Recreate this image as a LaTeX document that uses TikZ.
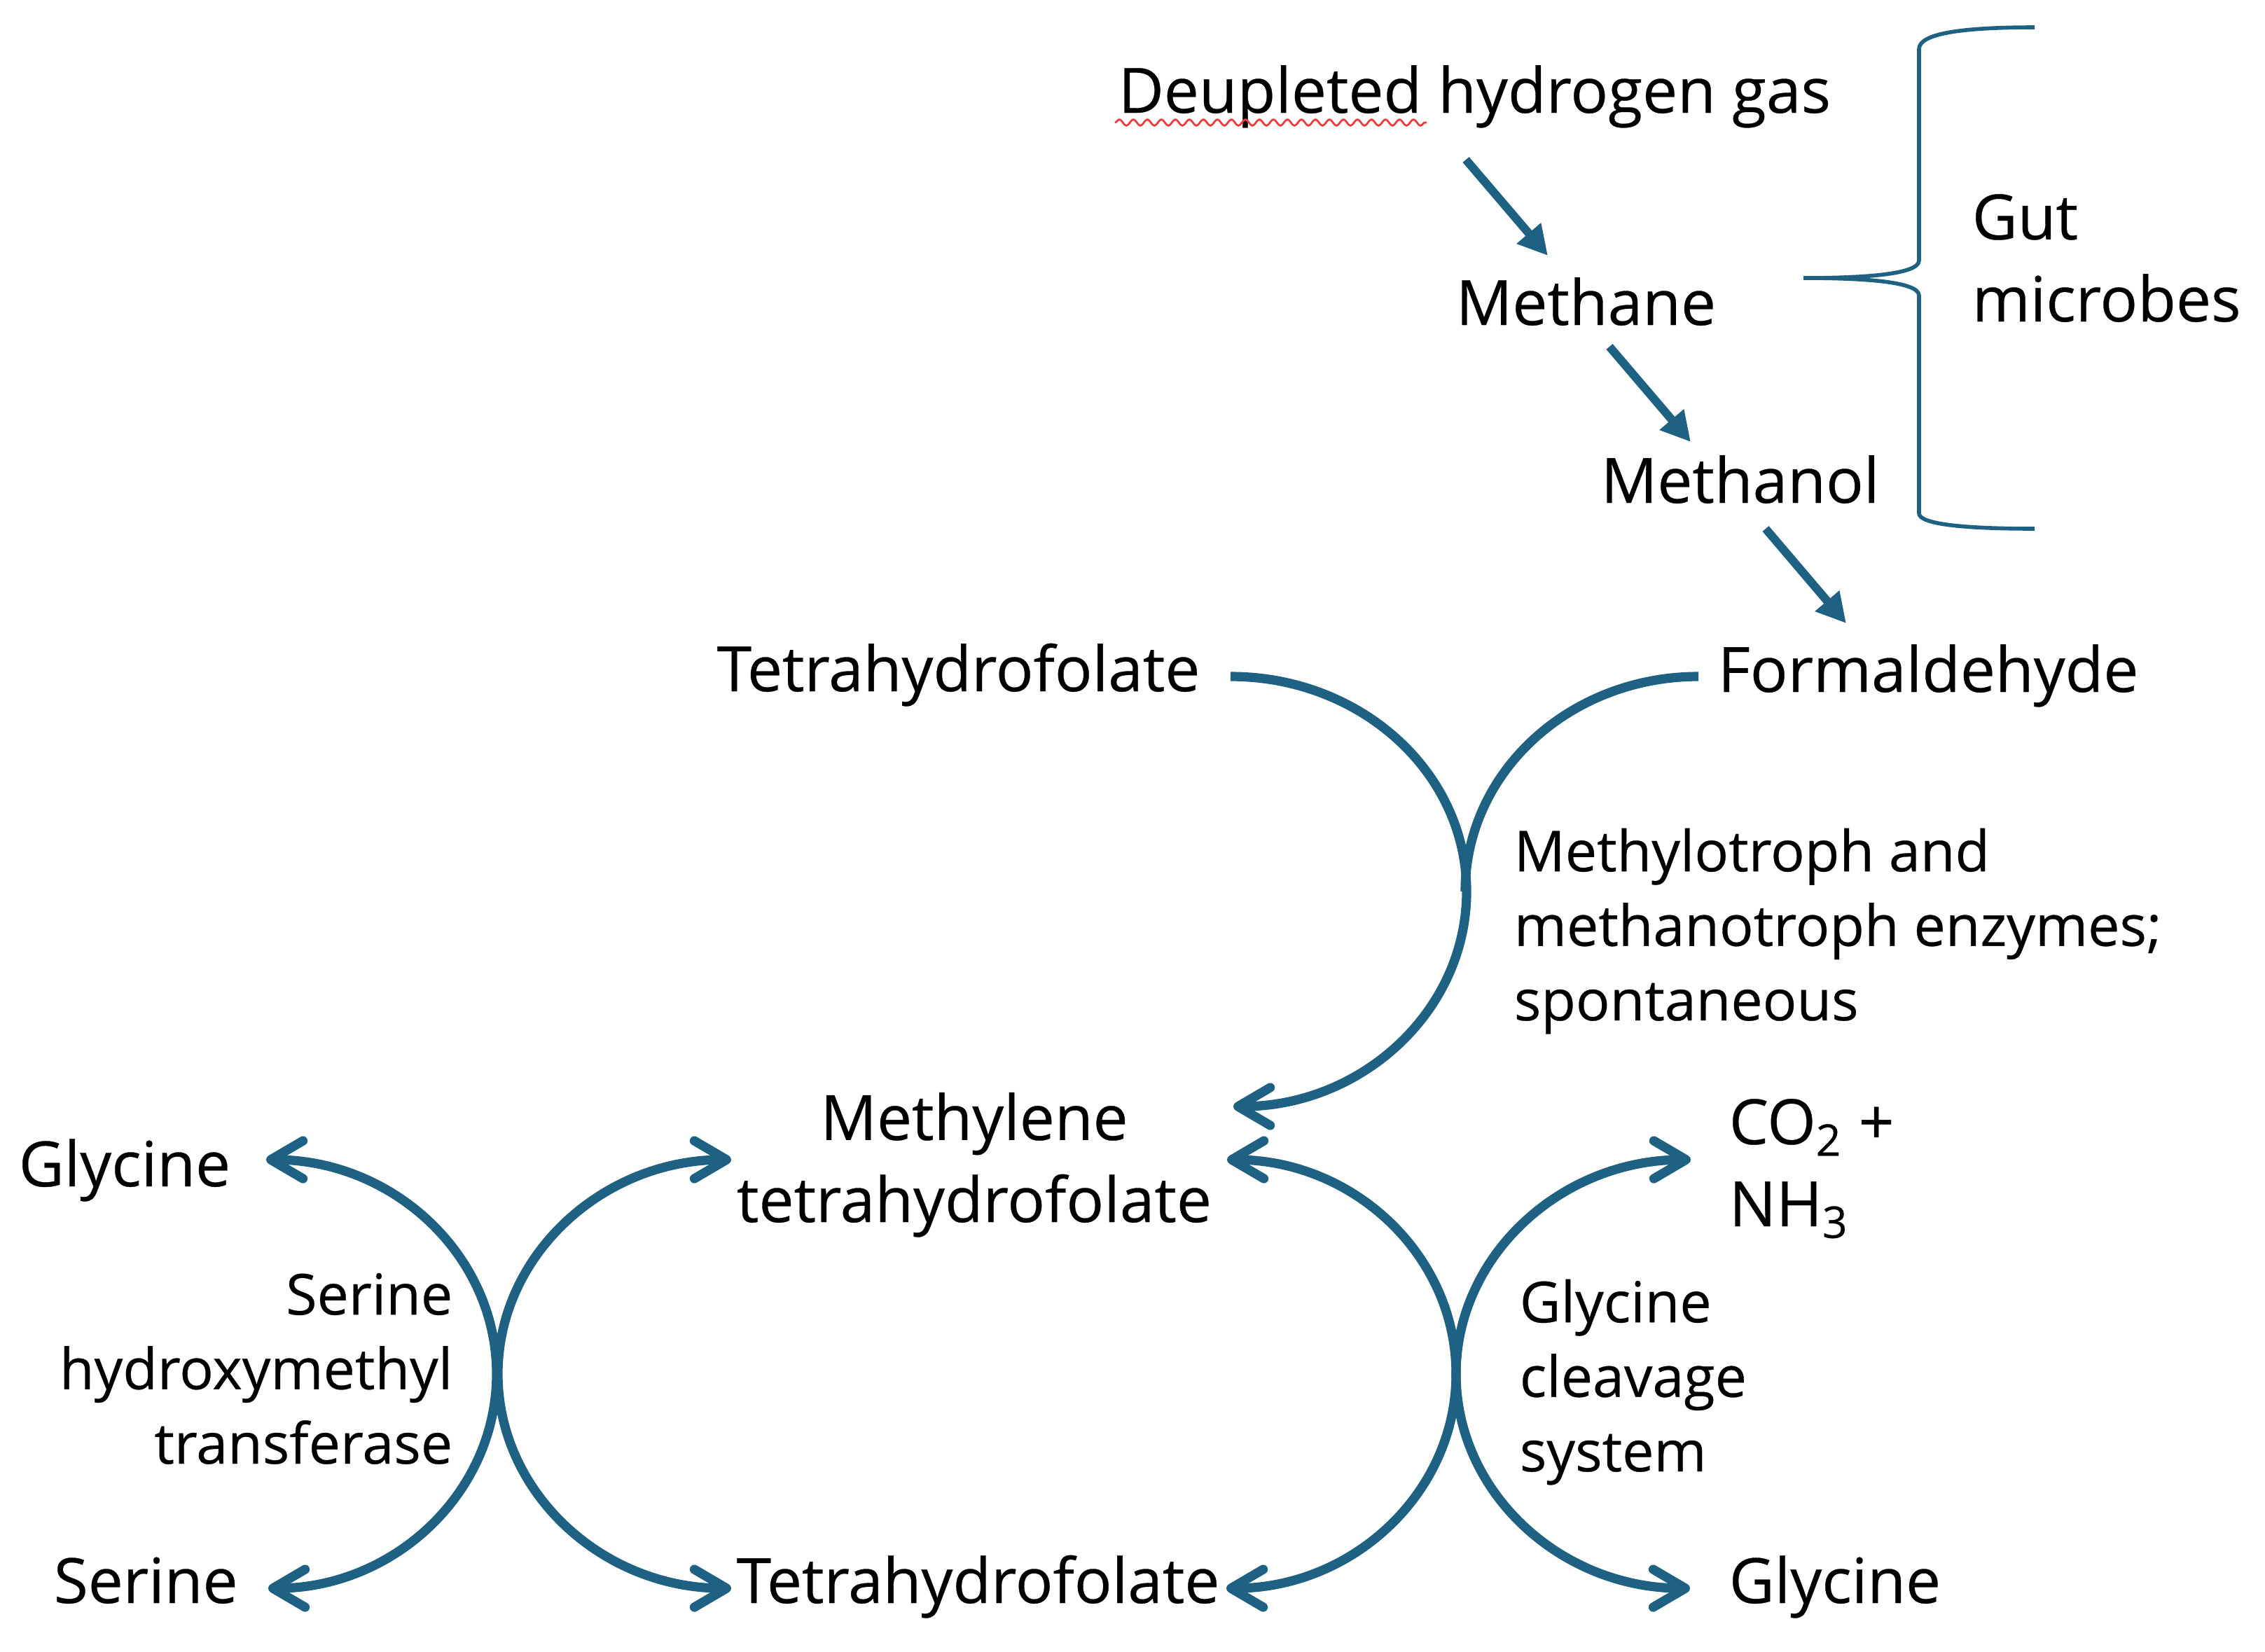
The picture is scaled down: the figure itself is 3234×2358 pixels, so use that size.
\documentclass[tikz,border=0pt]{standalone}
\usepackage{fontspec}
\setmainfont{Open Sans}[FakeBold=0.35]
\usetikzlibrary{arrows.meta,decorations.pathmorphing}
\definecolor{arr}{RGB}{31,97,131}
\definecolor{spell}{RGB}{235,60,60}
\tikzset{
  lbl/.style={inner sep=0pt, font=\fontsize{22.3}{29.3}\selectfont, text=black},
  sml/.style={inner sep=0pt, font=\fontsize{20.2}{26.6}\selectfont, text=black},
  strarrow/.style={draw=arr, line width=3pt, -{Triangle[length=10.5pt,width=10.75pt]}},
  curv/.style={draw=arr, line width=3.3pt},
  obarb/.tip={Straight Barb[length=11.5pt,width=13.5pt,round]},
  bracestyle/.style={draw=arr, line width=1.4pt},
  spellline/.style={draw=spell, line width=0.7pt, decorate,
    decoration={snake, segment length=5pt, amplitude=1.1pt}}
}
\begin{document}
\begin{tikzpicture}[x=0.25pt, y=-0.25pt]
\useasboundingbox (0,0) rectangle (3234,2358);
% ---------- text nodes (base anchor = baseline of last line) ----------
\node[lbl, anchor=base west] (h2) at (1596,161) {Deupleted hydrogen gas};
\node[lbl, anchor=base west] (methane) at (2078,464) {Methane};
\node[lbl, anchor=base west] (methanol) at (2285,718) {Methanol};
\node[lbl, anchor=base west, align=left] (gut) at (2815,459) {Gut\\microbes};
\node[lbl, anchor=base west] (thfA) at (1023,987) {Tetrahydrofolate};
\node[lbl, anchor=base west] (form) at (2452,988) {Formaldehyde};
\node[sml, anchor=base west, align=left] (mlo) at (2161,1457) {Methylotroph and\\methanotroph enzymes;\\spontaneous};
\node[lbl, anchor=base, align=center] (mthf) at (1391,1745) {Methylene\\tetrahydrofolate};
\node[lbl, anchor=base west] (glyA) at (26,1694) {Glycine};
\node[lbl, anchor=base west] (ser) at (76,2289) {Serine};
\node[sml, anchor=base east, align=right] (shmt) at (647,2090) {Serine\\hydroxymethyl\\transferase};
\node[lbl, anchor=base west] (thfB) at (1051,2289) {Tetrahydrofolate};
\node[lbl, anchor=base west, align=left] (co2) at (2468,1751) {CO\textsubscript{2} +\\NH\textsubscript{3}};
\node[sml, anchor=base west, align=left] (gcs) at (2169,2101) {Glycine\\cleavage\\system};
\node[lbl, anchor=base west] (glyB) at (2468,2289) {Glycine};
% spell-check underline
\coordinate (sp1) at (1592,175);
\coordinate (sp2) at (2037,175);
\draw[spellline] (sp1) -- (sp2);
% ---------- straight arrows ----------
\coordinate (a1s) at (2093,228);  \coordinate (a1e) at (2210,365);
\coordinate (a2s) at (2298,495);  \coordinate (a2e) at (2414,631);
\coordinate (a3s) at (2521,755);  \coordinate (a3e) at (2636,890);
\draw[strarrow] (a1s) -- (a1e);
\draw[strarrow] (a2s) -- (a2e);
\draw[strarrow] (a3s) -- (a3e);
% ---------- brace ----------
\coordinate (brTop) at (2905,39);
\coordinate (brTip) at (2575,397);
\coordinate (brBot) at (2905,755);
\draw[bracestyle] (brTop) .. controls (2800,39) and (2740,48) .. (2740,70)
  -- (2740,372) .. controls (2740,392) and (2660,397) .. (brTip)
  .. controls (2660,397) and (2740,402) .. (2740,422)
  -- (2740,733) .. controls (2740,748) and (2800,755) .. (brBot);
% ---------- curved arrows ----------
\coordinate (c1a) at (1757,966);  \coordinate (c1v) at (2094,1273); \coordinate (c1b) at (1761,1580);
\coordinate (c2a) at (2425,966);  \coordinate (c2v) at (2092,1273);
\draw[curv, -obarb] (c1a) .. controls (1943,966) and (2094,1103) .. (c1v)
  .. controls (2094,1443) and (1945,1580) .. (c1b);
\draw[curv] (c2a) .. controls (2241,966) and (2092,1103) .. (c2v);
% right pair
\coordinate (c3a) at (1752,1656); \coordinate (c3v) at (2079,1962); \coordinate (c3b) at (1751,2268);
\draw[curv, obarb-obarb] (c3a) .. controls (1933,1656) and (2079,1793) .. (c3v)
  .. controls (2079,2131) and (1932,2268) .. (c3b);
\coordinate (c4a) at (2414,1656); \coordinate (c4v) at (2079,1962); \coordinate (c4b) at (2413,2268);
\draw[curv, obarb-obarb] (c4a) .. controls (2229,1656) and (2079,1793) .. (c4v)
  .. controls (2079,2131) and (2228,2268) .. (c4b);
% left pair
\coordinate (c5a) at (380,1656); \coordinate (c5v) at (709,1962); \coordinate (c5b) at (383,2268);
\draw[curv, obarb-obarb] (c5a) .. controls (562,1656) and (709,1793) .. (c5v)
  .. controls (709,2131) and (563,2268) .. (c5b);
\coordinate (c6a) at (1044,1656); \coordinate (c6v) at (711,1962); \coordinate (c6b) at (1044,2268);
\draw[curv, obarb-obarb] (c6a) .. controls (860,1656) and (711,1793) .. (c6v)
  .. controls (711,2131) and (860,2268) .. (c6b);
\end{tikzpicture}
\end{document}
